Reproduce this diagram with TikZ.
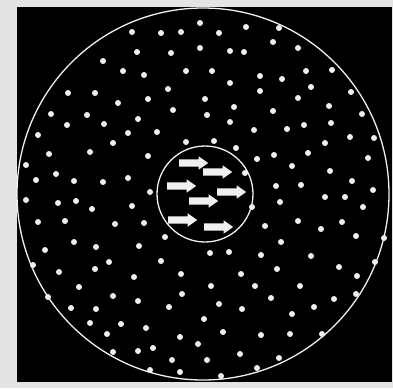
\documentclass[tikz,border=0pt]{standalone}
\usetikzlibrary{shapes.arrows}
\definecolor{frame}{HTML}{E4E4E4}
\definecolor{dotc}{HTML}{F0F0F0}

\begin{document}
\begin{tikzpicture}[
  x=1pt, y=-1pt,
  ring/.style={draw=dotc, line width=1.3pt},
  dot/.style={fill=dotc},
  flow/.style={single arrow, fill=dotc, draw=none, inner sep=3.5pt, anchor=tail,
               minimum height=29pt,
               single arrow head extend=3pt, single arrow tip angle=70},
]
% ---------- Fondo ----------
\fill[frame] (0,0) rectangle (393,388);
\useasboundingbox (0,0) rectangle (393,388);
\fill[black] (17,7) rectangle (392,382);

% ---------- Circulos ----------
\draw[ring] (203,194) circle[radius=186];
\draw[ring] (205,194) circle[radius=48];

% ---------- Particulas ----------
\foreach \p in {
  (132,32),(161,33),(181,32),(200,23),(137,52),(171,53),(200,48),
  (103,61),(123,71),(144,75),(186,71),(68,93),(95,93),(168,89),
  (148,99),(118,103),(173,110),(51,114),(87,115),(67,125),(104,124),
  (138,119),(128,133),(157,132),(38,135),(113,143),(186,142),(90,152),
  (49,154),(148,156),(26,165),(56,174),(36,180),(74,181),(103,182),
  (128,178),(150,192),(26,200),
  (219,33),(246,27),(279,28),(230,51),(244,52),(273,42),(298,48),
  (212,71),(260,76),(282,79),(306,71),(332,70),(230,83),(260,91),
  (311,87),(351,92),(205,99),(298,98),(234,107),(329,106),(207,115),
  (273,111),(362,114),(230,122),(331,123),(304,125),(287,129),(254,130),
  (350,137),(374,138),(214,141),(325,143),(236,148),(274,155),(308,153),
  (368,158),(257,159),(292,166),(330,171),(245,173),(352,181),(276,186),
  (301,185),(373,190),(325,197),(345,197),
  (58,203),(76,201),(92,209),(132,206),(38,222),(65,221),(115,224),
  (144,223),(165,237),(74,242),(96,247),(139,246),(45,250),(33,265),
  (109,262),(161,261),(59,272),(95,269),(181,274),(134,277),(79,287),
  (182,294),(48,297),(113,296),(138,301),(169,307),(71,308),(96,309),
  (90,323),(121,324),(146,328),(180,337),(107,334),(198,344),(153,348),
  (138,351),(113,352),(172,360),(150,370),(180,372),
  (252,207),(280,202),(363,207),(265,226),(298,221),(321,229),(342,222),
  (356,236),(384,238),(210,253),(229,252),(261,255),(281,242),(311,256),
  (375,262),(241,274),(277,269),(339,267),(357,276),(211,286),(255,286),
  (300,286),(356,294),(219,304),(242,309),(271,298),(334,299),(314,307),
  (204,319),(292,314),(223,332),(261,335),(290,334),(322,334),(240,354),
  (279,358),(207,360),(257,368),(221,376)}
  \fill[dot] \p circle[radius=3];

% ---------- Flechas ----------
\foreach \x/\y [count=\i] in {179/163, 203/172, 167/186, 217/192,
                              189/201, 168/220, 204/227}
  \node[flow] (a\i) at (\x,\y) {};
\end{tikzpicture}
\end{document}
